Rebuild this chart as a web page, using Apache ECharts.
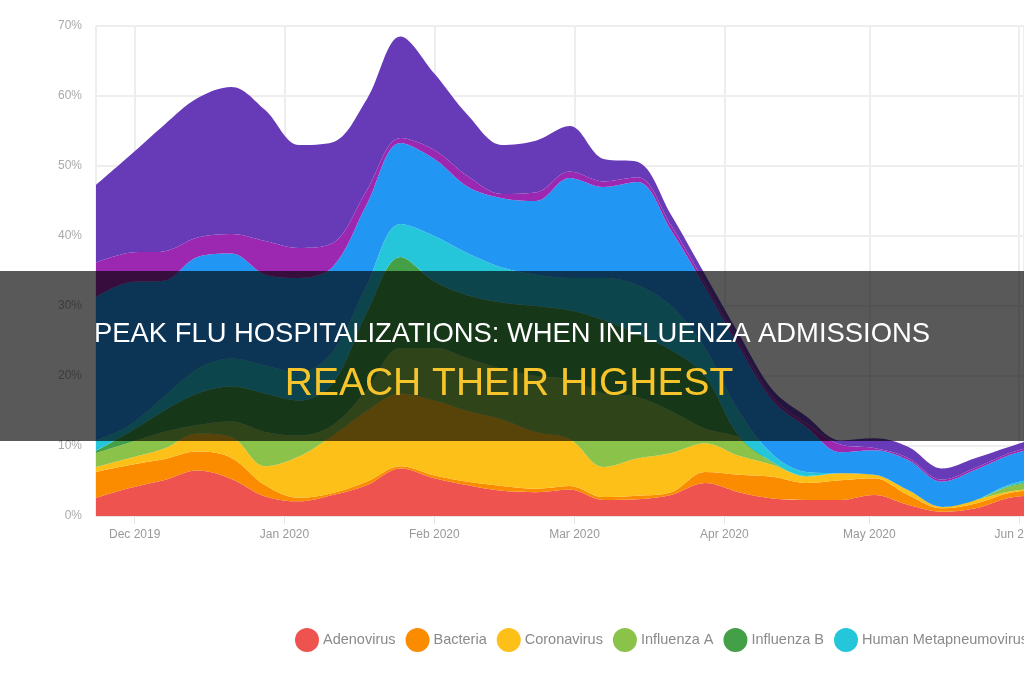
<!DOCTYPE html>
<html>
<head>
<meta charset="utf-8">
<script src="https://cdn.jsdelivr.net/npm/echarts@6/dist/echarts.min.js"></script>
<style>
    html, body { margin: 0; padding: 0; background: #fff; }
    #chart { width: 1024px; height: 680px; }
</style>
</head>
<body>
<div id="chart"></div>
<script>
// weekly samples (x axis)
const weeks = ['2019-11-23', '2019-11-30', '2019-12-07', '2019-12-14', '2019-12-21', '2019-12-28',
    '2020-01-04', '2020-01-11', '2020-01-18', '2020-01-25', '2020-02-01', '2020-02-08',
    '2020-02-15', '2020-02-22', '2020-02-29', '2020-03-07', '2020-03-14', '2020-03-21',
    '2020-03-28', '2020-04-04', '2020-04-11', '2020-04-18', '2020-04-25', '2020-05-02',
    '2020-05-09', '2020-05-16', '2020-05-23', '2020-05-30', '2020-06-06'];

// percent of tests, per pathogen (stacked)
const adenovirus = [2.6, 4.0, 5.1, 6.5, 5.3, 2.8, 2.1, 3.0, 4.4, 6.8, 5.4, 4.4, 3.6, 3.4, 3.8, 2.3, 2.4, 3.0, 4.7, 3.4, 2.5, 2.3, 2.3, 3.0, 1.6, 0.6, 1.1, 2.6, 3.0];
const bacteria = [3.7, 3.3, 3.0, 2.7, 3.0, 1.6, 0.5, 0.3, 0.5, 0.3, 0.4, 0.5, 0.7, 0.5, 0.5, 0.4, 0.5, 0.4, 1.6, 2.5, 3.1, 2.4, 2.8, 2.4, 1.4, 0.5, 0.7, 0.7, 0.8];
const coronavirus = [0.7, 1.0, 1.5, 2.6, 3.0, 2.7, 5.9, 8.2, 10.1, 10.4, 10.7, 10.1, 9.5, 8.1, 6.7, 4.3, 5.3, 5.6, 4.1, 2.7, 1.7, 0.9, 1.0, 0.5, 0.7, 0.2, 0.5, 0.2, 0.3];
const influenzaA = [2.0, 2.2, 2.4, 1.2, 2.2, 4.9, 3.0, 1.5, 3.0, 6.5, 7.5, 7.5, 7.2, 8.0, 8.5, 10.5, 8.8, 6.0, 2.1, 2.6, 0.3, 0.1, 0, 0, 0, 0, 0, 0.7, 0.9];
const influenzaB = [0.3, 1.5, 3.0, 4.5, 5.0, 5.5, 5.0, 6.0, 11.0, 13.0, 9.5, 9.0, 9.5, 10.0, 9.9, 10.5, 9.0, 8.7, 7.5, 0.2, 0.1, 0, 0, 0, 0, 0, 0, 0.1, 0.1];
const metapneumo = [1.5, 1.0, 2.0, 3.5, 4.0, 4.0, 4.0, 4.5, 4.0, 4.7, 6.5, 6.0, 5.0, 4.5, 4.6, 6.0, 7.0, 6.3, 4.0, 3.6, 1.1, 0.6, 0, 0, 0, 0, 0, 0.2, 0.4];
const parainfluenza = [20.5, 20.4, 16.6, 16.0, 15.0, 13.0, 13.5, 12.1, 11.5, 11.6, 11.0, 9.5, 9.9, 10.5, 14.3, 13.0, 14.7, 10.8, 8.7, 9.2, 7.7, 6.4, 3.0, 3.5, 4.3, 3.6, 4.3, 4.2, 4.5];
const rsv = [4.9, 4.2, 4.2, 2.8, 2.8, 4.8, 4.3, 3.4, 2.0, 0.7, 1.3, 1.5, 0.6, 1.2, 0.9, 0.8, 0.7, 0.7, 0.6, 0.6, 0.5, 0.5, 1.1, 0.3, 0.3, 0.3, 0.3, 0.3, 0.3];
const rhinovirus = [11.1, 13.9, 18.0, 19.9, 21.0, 18.7, 14.7, 14.4, 13.0, 14.5, 10.9, 8.7, 7.0, 7.4, 6.5, 3.2, 2.2, 1.5, 1.2, 1.2, 1.0, 1.0, 0.6, 1.4, 1.6, 1.6, 1.4, 0.9, 1.2];

const seriesNames = ['Adenovirus', 'Bacteria', 'Coronavirus', 'Influenza A', 'Influenza B',
    'Human Metapneumovirus', 'Parainfluenza Virus', 'Respiratory Syncytial Virus', 'Rhinovirus/Enterovirus'];
const seriesValues = [adenovirus, bacteria, coronavirus, influenzaA, influenzaB,
    metapneumo, parainfluenza, rsv, rhinovirus];
const colors = ['#ef5350', '#fb8c00', '#fdc018', '#8bc34a', '#43a047',
    '#26c6da', '#2196f3', '#9c27b0', '#673ab7'];

const yTicks = [0, 10, 20, 30, 40, 50, 60, 70];
const monthNames = ['Jan', 'Feb', 'Mar', 'Apr', 'May', 'Jun', 'Jul', 'Aug', 'Sep', 'Oct', 'Nov', 'Dec'];

const titleLine1 = 'PEAK FLU HOSPITALIZATIONS: WHEN INFLUENZA ADMISSIONS';
const titleLine2 = 'REACH THEIR HIGHEST';

let chart = echarts.init(document.querySelector('#chart'));

// build the stacked series
let series = seriesNames.map((name, i) => {
    return {
        name: name,
        type: 'line',
        stack: 'total',
        smooth: 0.35,
        symbol: 'none',
        color: colors[i],
        lineStyle: { width: 0 },
        areaStyle: { color: colors[i], opacity: 1 },
        data: weeks.map((w, j) => [w, seriesValues[i][j]])
    };
});

let option = {
    animation: false,
    backgroundColor: '#fff',
    textStyle: { fontFamily: '"Liberation Sans", Arial, sans-serif' },
    grid: { left: 96, right: 0, top: 26, bottom: 164, outerBoundsMode: 'none' },
    legend: {
        data: seriesNames,
        left: 290,
        top: 623,
        width: 2000,
        itemWidth: 24,
        itemHeight: 25,
        itemGap: 10,
        selectedMode: false,
        icon: 'circle',
        textStyle: { color: '#8a8a8a', fontSize: 14.5, padding: [0, 0, 0, -1] }
    },
    xAxis: {
        type: 'time',
        min: '2019-11-23',
        max: '2020-06-02',
        splitNumber: 6,
        minInterval: 28 * 24 * 3600 * 1000,
        axisLine: { show: true, lineStyle: { color: '#e6e6e6' } },
        axisTick: { show: true, length: 8, lineStyle: { color: '#e6e6e6' } },
        splitLine: { show: true, lineStyle: { color: '#eeeeee', width: 2 } },
        axisLabel: {
            color: '#999',
            fontSize: 12,
            margin: 13,
            showMinLabel: false,
            showMaxLabel: false,
            formatter: function (val) {
                let d = new Date(val);
                if (d.getDate() !== 1) return '';
                return monthNames[d.getMonth()] + ' ' + d.getFullYear();
            }
        }
    },
    yAxis: {
        type: 'value',
        min: yTicks[0],
        max: yTicks[yTicks.length - 1],
        interval: 10,
        axisLine: { show: false },
        axisTick: { show: false },
        splitLine: { lineStyle: { color: '#eeeeee', width: 2 } },
        axisLabel: { color: '#aaa', fontSize: 12, margin: 14, formatter: '{value}%' }
    },
    series: series,
    graphic: [
        {
            type: 'rect',
            z: 100,
            shape: { x: 0, y: 271, width: 1024, height: 170 },
            style: { fill: 'rgba(0,0,0,0.65)' }
        },
        {
            type: 'text',
            z: 101,
            x: 512,
            y: 334,
            style: {
                text: titleLine1,
                fill: '#ffffff',
                fontSize: 27.4,
                fontFamily: '"Liberation Sans", Arial, sans-serif',
                align: 'center',
                verticalAlign: 'middle',
                textAlign: 'center',
                textVerticalAlign: 'middle'
            }
        },
        {
            type: 'text',
            z: 101,
            x: 509,
            y: 384,
            style: {
                text: titleLine2,
                fill: '#f7c52b',
                fontSize: 39,
                fontFamily: '"Liberation Sans", Arial, sans-serif',
                align: 'center',
                verticalAlign: 'middle',
                textAlign: 'center',
                textVerticalAlign: 'middle'
            }
        }
    ]
};

chart.setOption(option);
</script>
</body>
</html>
